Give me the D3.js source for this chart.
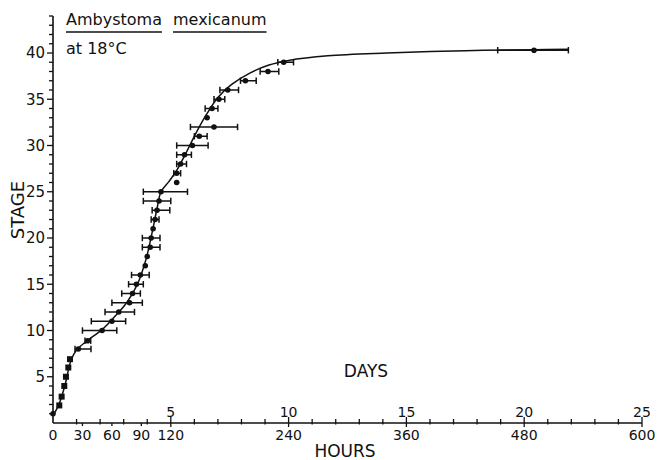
<!DOCTYPE html>
<html>
<head>
<meta charset="utf-8">
<script src="https://cdn.jsdelivr.net/npm/d3@7"></script>
<style>
  body { margin: 0; background: #fff; }
  text { font-family: "DejaVu Sans", sans-serif; fill: #111; }
</style>
</head>
<body>
<script>
// stage vs. hours of development
const stages =  [1, 1.9, 2.85, 4, 5, 6, 6.9, 8, 8.9, 10, 11, 12, 13, 14, 15, 16, 17, 18, 19, 20, 21, 22, 23, 24, 25, 26, 27, 28, 29, 30, 31, 32, 33, 34, 35, 36, 37, 38, 39, 40.3];
const meanHrs = [0, 6.4, 8.8, 11.5, 13.2, 15.6, 17.3, 25.8, 35.3, 50, 60, 67, 78, 81, 85, 89, 94, 96, 99, 100, 102, 104, 106, 108, 110, 126, 126, 130, 134, 142, 149, 164, 157, 162, 169, 178, 196, 219, 235, 490];
const loHrs =   [null, null, null, null, null, null, null, 22.4, 32.6, 30, 39, 53, 60, 70, 77, 80, null, null, 91, 91, null, 100, 101, 92, 92, null, 123, 126, 126, 126, 144, 140, null, 155, 164, 170, 191, 211, 229, 453];
const hiHrs =   [null, null, null, null, null, null, null, 38.7, 38.4, 65, 74, 83, 91, 89, 92, 98, null, null, 109, 109, null, 108, 119, 120, 137, null, 130, 136, 141, 158, 157, 188, null, 168, 175, 189, 207, 230, 245, 525];
const squareUpTo = 7; // first few points drawn as squares

// fitted curve guide points [hours, stage]
const curveHrs =   [0, 6, 12, 17.5, 21, 26, 36, 50, 62, 75, 86, 95, 101, 106, 110, 118, 126, 136, 145, 156, 168, 182, 200, 220, 240, 280, 340, 420, 490, 525];
const curveStage = [0.8, 2, 4, 6.5, 7.4, 8.1, 9, 10.1, 11.4, 13, 15, 17.8, 20.6, 23.2, 25, 26.1, 27.3, 29.3, 31.2, 33.3, 35.2, 36.6, 37.8, 38.7, 39.2, 39.7, 40.0, 40.25, 40.35, 40.4];

const hourTicks = [0, 30, 60, 90, 120, 240, 360, 480, 600];
const dayLabels = [5, 10, 15, 20, 25];

const W = 659, H = 460;
const svg = d3.select("body").append("svg").attr("width", W).attr("height", H);

const x = d3.scaleLinear().domain([0, 600]).range([53, 642]);
const xd = d3.scaleLinear().domain([0, 25]).range([53, 642]);
const y = d3.scaleLinear().domain([0, 44]).range([423, 16]);

// y axis
const yAxis = svg.append("g").attr("transform", `translate(${x(0)},0)`);
yAxis.append("line").attr("x1", 0).attr("x2", 0).attr("y1", y(0)).attr("y2", y(44))
  .attr("stroke", "#111").attr("stroke-width", 1.6);
d3.range(1, 45).forEach(s => {
  yAxis.append("line").attr("x1", s % 5 === 0 ? -6 : -4).attr("x2", 0)
    .attr("y1", y(s)).attr("y2", y(s)).attr("stroke", "#111").attr("stroke-width", 1.3);
});
[5, 10, 15, 20, 25, 30, 35, 40].forEach(s => {
  yAxis.append("text").attr("x", -8).attr("y", y(s)).attr("dy", "0.36em")
    .attr("text-anchor", "end").attr("font-size", 15).text(s);
});

// x axis (days above, hours below)
const xAxis = svg.append("g");
xAxis.append("line").attr("x1", x(0)).attr("x2", x(600)).attr("y1", y(0)).attr("y2", y(0))
  .attr("stroke", "#111").attr("stroke-width", 1.6);
d3.range(1, 26).forEach(d => {
  const major = d % 5 === 0;
  xAxis.append("line").attr("x1", xd(d)).attr("x2", xd(d))
    .attr("y1", y(0) - (major ? 6 : 4)).attr("y2", y(0) + (major ? 4 : 1.5))
    .attr("stroke", "#111").attr("stroke-width", 1.3);
});
[30, 60, 90].forEach(h => {
  xAxis.append("line").attr("x1", x(h)).attr("x2", x(h))
    .attr("y1", y(0)).attr("y2", y(0) + 3).attr("stroke", "#111").attr("stroke-width", 1.3);
});
dayLabels.forEach(d => {
  xAxis.append("text").attr("x", xd(d)).attr("y", 417).attr("text-anchor", "middle")
    .attr("font-size", 14).text(d);
});
hourTicks.forEach(h => {
  xAxis.append("text").attr("x", x(h)).attr("y", 440).attr("text-anchor", "middle")
    .attr("font-size", 14).text(h);
});

// axis titles
svg.append("text").attr("transform", "translate(24,210) rotate(-90)")
  .attr("text-anchor", "middle").attr("font-size", 18).text("STAGE");
svg.append("text").attr("x", 345).attr("y", 457).attr("text-anchor", "middle")
  .attr("font-size", 17).text("HOURS");
svg.append("text").attr("x", 366).attr("y", 377).attr("text-anchor", "middle")
  .attr("font-size", 17).text("DAYS");

// title block
const t1 = svg.append("text").attr("x", 66).attr("y", 25).attr("font-size", 16).text("Ambystoma");
const t2 = svg.append("text").attr("x", 173).attr("y", 25).attr("font-size", 16).text("mexicanum");
[t1, t2].forEach(t => {
  const b = t.node().getBBox();
  svg.append("line").attr("x1", b.x).attr("x2", b.x + b.width).attr("y1", 32).attr("y2", 32)
    .attr("stroke", "#111").attr("stroke-width", 1.4);
});
svg.append("text").attr("x", 66).attr("y", 54).attr("font-size", 16).text("at 18°C");

// fitted curve
const line = d3.line().x(d => x(d[0])).y(d => y(d[1])).curve(d3.curveCatmullRom.alpha(0.5));
svg.append("path").datum(curveHrs.map((h, i) => [h, curveStage[i]]))
  .attr("fill", "none").attr("stroke", "#111").attr("stroke-width", 1.5).attr("d", line);

// error bars
const pts = stages.map((s, i) => ({ s, m: meanHrs[i], lo: loHrs[i], hi: hiHrs[i], i }));
const eb = svg.append("g").attr("stroke", "#111").attr("stroke-width", 1.5);
pts.filter(p => p.lo != null).forEach(p => {
  eb.append("line").attr("x1", x(p.lo)).attr("x2", x(p.hi)).attr("y1", y(p.s)).attr("y2", y(p.s));
  [p.lo, p.hi].forEach(v => {
    eb.append("line").attr("x1", x(v)).attr("x2", x(v)).attr("y1", y(p.s) - 3.2).attr("y2", y(p.s) + 3.2);
  });
});

// markers
pts.forEach(p => {
  if (p.i > 0 && p.i < squareUpTo) {
    svg.append("rect").attr("x", x(p.m) - 3).attr("y", y(p.s) - 3)
      .attr("width", 6).attr("height", 6).attr("fill", "#111");
  } else {
    svg.append("circle").attr("cx", x(p.m)).attr("cy", y(p.s)).attr("r", 2.8).attr("fill", "#111");
  }
});
</script>
</body>
</html>
